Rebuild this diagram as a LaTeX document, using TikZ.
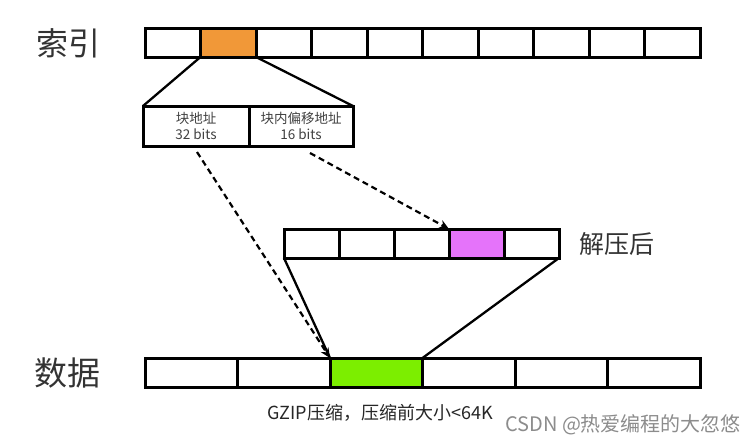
\documentclass[tikz,border=0pt]{standalone}
\usepackage{fontspec}
\setmainfont{Noto Sans CJK SC}
\usetikzlibrary{arrows.meta}
\begin{document}
\begin{tikzpicture}[x=1pt,y=-1pt,
  cell/.style={draw=black,line width=3pt,minimum height=29pt,inner sep=0pt,outer sep=0pt,fill=white},
  tcell/.style={cell,minimum width=55.5pt},
  mcell/.style={cell,minimum width=55pt},
  bcell/.style={cell,minimum width=92.5pt},
  scell/.style={draw=black,line width=3pt,minimum height=40pt,inner sep=0pt,outer sep=0pt,align=center,font=\fontsize{13.5}{15.5}\selectfont,text=black!75},
  bigl/.style={font=\fontsize{32}{34}\selectfont,text=black!80,anchor=west,inner sep=0pt},
  conn/.style={line width=2.3pt},
  dasharrow/.style={line width=2.2pt,dash pattern=on 6pt off 4pt,-{Stealth[length=10pt,width=9pt]}}
]
\useasboundingbox (0,0) rectangle (753,445);
% top row
\foreach \i in {1,...,10}{
  \node[tcell] (t\i) at ({145+55.5*(\i-0.5)},42.5) {};
}
\node[tcell,fill={rgb,255:red,241;green,152;blue,56}] at (t2) {};
\node[bigl] (lidx) at (36,43) {索引};
% split box
\node[scell,minimum width=106pt] (s1) at (196,126) {块地址\\32 bits};
\node[scell,minimum width=104pt] (s2) at (301,126) {块内偏移地址\\16 bits};
\draw[conn] (t2.south west) -- (s1.north west);
\draw[conn] (t2.south east) -- (s2.north east);
% middle row
\foreach \i in {1,...,5}{
  \node[mcell] (m\i) at ({284+55*(\i-0.5)},243.5) {};
}
\node[mcell,fill={rgb,255:red,229;green,115;blue,250}] at (m4) {};
\node[bigl,font=\fontsize{25}{27}\selectfont] (ldec) at (579,244) {解压后};
% bottom row
\foreach \i in {1,...,6}{
  \node[bcell] (b\i) at ({145+92.5*(\i-0.5)},372.5) {};
}
\node[bcell,fill={rgb,255:red,124;green,238;blue,0}] at (b3) {};
\node[bigl,font=\fontsize{33}{35}\selectfont] (ldat) at (34,373) {数据};
\draw[conn] (m1.south west) -- (b3.north west);
\draw[conn] (m5.south east) -- (b3.north east);
% dashed arrows
\coordinate (d1) at (197,152);
\coordinate (d2) at (310,153);
\draw[dasharrow] (d1) -- (b3.north west);
\draw[dasharrow] (d2) -- (m4.north west);
% captions
\node[font=\fontsize{18}{20}\selectfont,text=black!85,inner sep=0pt] (cap) at (380,413) {GZIP压缩，压缩前大小<64K};
\node[font=\fontsize{20}{22}\selectfont,text=black!45,anchor=west,inner sep=0pt] (wm) at (505,425) {CSDN @热爱编程的大忽悠};
\end{tikzpicture}
\end{document}
